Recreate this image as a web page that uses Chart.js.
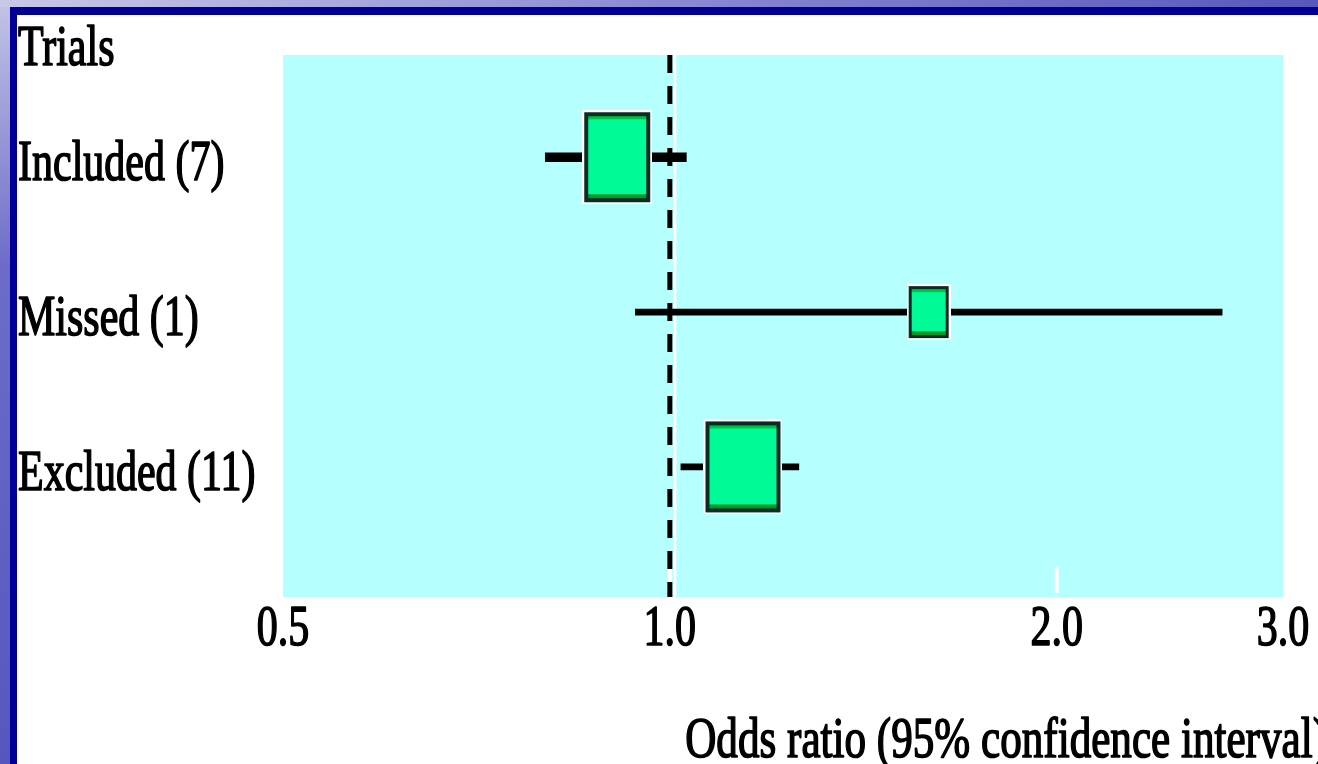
<!DOCTYPE html>
<html>
<head>
<meta charset="utf-8">
<script src="https://cdn.jsdelivr.net/npm/chart.js@4.4.0/dist/chart.umd.min.js"></script>
<style>
html,body{margin:0;padding:0;background:#fff;overflow:hidden}
#wrap{width:1318px;height:764px;position:relative}
canvas{display:block}
</style>
</head>
<body>
<div id="wrap"><canvas id="c" width="1318" height="764"></canvas></div>
<script>
// ---- data ----
const categories = ['Included (7)', 'Missed (1)', 'Excluded (11)'];
const oddsRatios = [0.91, 1.59, 1.14];
const ciLower = [0.80, 0.94, 1.02];
const ciUpper = [1.03, 2.69, 1.26];
const xTickValues = [0.5, 1.0, 2.0, 3.0];
const xTickLabels = ['0.5', '1.0', '2.0', '3.0'];
const referenceValue = 1.0;
const columnTitle = 'Trials';
const axisTitle = 'Odds ratio (95% confidence interval)';

// ---- styles ----
const boxSizes = [[66, 90], [40, 52], [75, 91]];
const whiskerWidths = [9, 6, 6];
const FONT = '56px "Liberation Serif", "Times New Roman", serif';
const CONDENSE = 0.75;

function makeBox(w, h) {
  const halo = 2;
  const c = document.createElement('canvas');
  c.width = w + halo * 2;
  c.height = h + halo * 2;
  const g = c.getContext('2d');
  g.fillStyle = '#ffffff';
  g.fillRect(0, 0, c.width, c.height);
  g.fillStyle = '#0b2b26';
  g.fillRect(halo, halo, w, h);
  const b = w > 50 ? 4 : 3;
  g.fillStyle = '#00fa96';
  g.fillRect(halo + b, halo + b, w - 2 * b, h - 2 * b);
  g.fillStyle = '#00c045';
  g.fillRect(halo + b, halo + b, w - 2 * b, 3);
  g.fillStyle = '#009a2a';
  g.fillRect(halo + b, halo + h - b - 4, w - 2 * b, 4);
  return c;
}
const boxImages = boxSizes.map(s => makeBox(s[0], s[1]));
const rows = categories.map((_, i) => i);

function drawText(ctx, text, x, y, align, condense) {
  ctx.save();
  ctx.translate(x, y);
  ctx.scale(condense || CONDENSE, 1);
  ctx.font = FONT;
  ctx.textAlign = align;
  ctx.textBaseline = 'alphabetic';
  ctx.fillStyle = '#000';
  ctx.strokeStyle = '#000';
  ctx.lineWidth = 1.6;
  ctx.lineJoin = 'round';
  ctx.fillText(text, 0, 0);
  ctx.strokeText(text, 0, 0);
  ctx.restore();
}

const decor = {
  id: 'decor',
  beforeDraw(chart) {
    const { ctx, chartArea: a, width: W, height: H } = chart;
    ctx.save();
    ctx.fillStyle = '#ffffff';
    ctx.fillRect(0, 0, W, H);
    let g = ctx.createLinearGradient(0, 0, 0, H);
    g.addColorStop(0, '#c4c4e6');
    g.addColorStop(0.35, '#6c6cc8');
    g.addColorStop(1, '#5656be');
    ctx.fillStyle = g;
    ctx.fillRect(0, 0, 10, H);
    g = ctx.createLinearGradient(0, 0, W, 0);
    g.addColorStop(0, '#c8c8e8');
    g.addColorStop(0.5, '#8a8ad4');
    g.addColorStop(1, '#5858bc');
    ctx.fillStyle = g;
    ctx.fillRect(0, 0, W, 7);
    ctx.fillStyle = '#000099';
    ctx.fillRect(10, 7, 7, H - 7);
    ctx.fillRect(10, 7, W - 10, 8);
    ctx.fillStyle = '#b6ffff';
    ctx.fillRect(a.left, a.top, a.right - a.left, a.bottom - a.top);
    ctx.restore();
  },
  beforeDatasetsDraw(chart) {
    const { ctx, chartArea: a } = chart;
    const xs = chart.scales.x;
    ctx.save();
    ctx.strokeStyle = '#ffffff';
    ctx.lineWidth = 4;
    xTickValues.forEach(v => {
      if (v <= xs.min || v >= xs.max) return;
      const px = xs.getPixelForValue(v);
      ctx.beginPath();
      ctx.moveTo(px, a.bottom - 30);
      ctx.lineTo(px, a.bottom - 4);
      ctx.stroke();
    });
    const rx = xs.getPixelForValue(referenceValue);
    ctx.strokeStyle = '#ffffff';
    ctx.lineWidth = 3;
    ctx.beginPath();
    ctx.moveTo(rx + 5, a.top);
    ctx.lineTo(rx + 5, a.bottom);
    ctx.stroke();
    ctx.strokeStyle = '#000000';
    ctx.lineWidth = 5;
    ctx.setLineDash([18, 13]);
    ctx.beginPath();
    ctx.moveTo(rx, a.top);
    ctx.lineTo(rx, a.bottom);
    ctx.stroke();
    ctx.restore();
  },
  afterDraw(chart) {
    const { ctx } = chart;
    const xs = chart.scales.x, ys = chart.scales.y;
    drawText(ctx, columnTitle, 18, 65, 'left');
    categories.forEach((c, i) => drawText(ctx, c, 18, ys.getPixelForValue(rows[i]) + 23, 'left'));
    xTickValues.forEach((v, i) => drawText(ctx, xTickLabels[i], xs.getPixelForValue(v), 645, 'center'));
    drawText(ctx, axisTitle, 1327, 757, 'right', 0.77);
  }
};

const whiskerDatasets = categories.map((label, i) => ({
  type: 'bar',
  label: label,
  indexAxis: 'y',
  data: [{ x: [ciLower[i], ciUpper[i]], y: rows[i] }],
  backgroundColor: '#000000',
  borderWidth: 0,
  barThickness: whiskerWidths[i],
  grouped: false,
  order: 2
}));

const pointDataset = {
  type: 'scatter',
  label: 'Odds ratio',
  data: categories.map((_, i) => ({ x: oddsRatios[i], y: rows[i] })),
  pointStyle: ctx => boxImages[ctx.dataIndex],
  pointRadius: 10,
  pointHoverRadius: 10,
  showLine: false,
  order: 1
};

new Chart(document.getElementById('c'), {
  type: 'bar',
  data: { datasets: [...whiskerDatasets, pointDataset] },
  options: {
    responsive: false,
    animation: false,
    events: [],
    layout: { padding: { left: 283, right: 35, top: 55, bottom: 167 } },
    scales: {
      x: { type: 'logarithmic', min: 0.5, max: 3, display: false, offset: false },
      y: { type: 'linear', min: -0.66, max: 2.84, reverse: true, display: false, offset: false, grid: { offset: false } }
    },
    plugins: { legend: { display: false }, tooltip: { enabled: false } }
  },
  plugins: [decor]
});
</script>
</body>
</html>
